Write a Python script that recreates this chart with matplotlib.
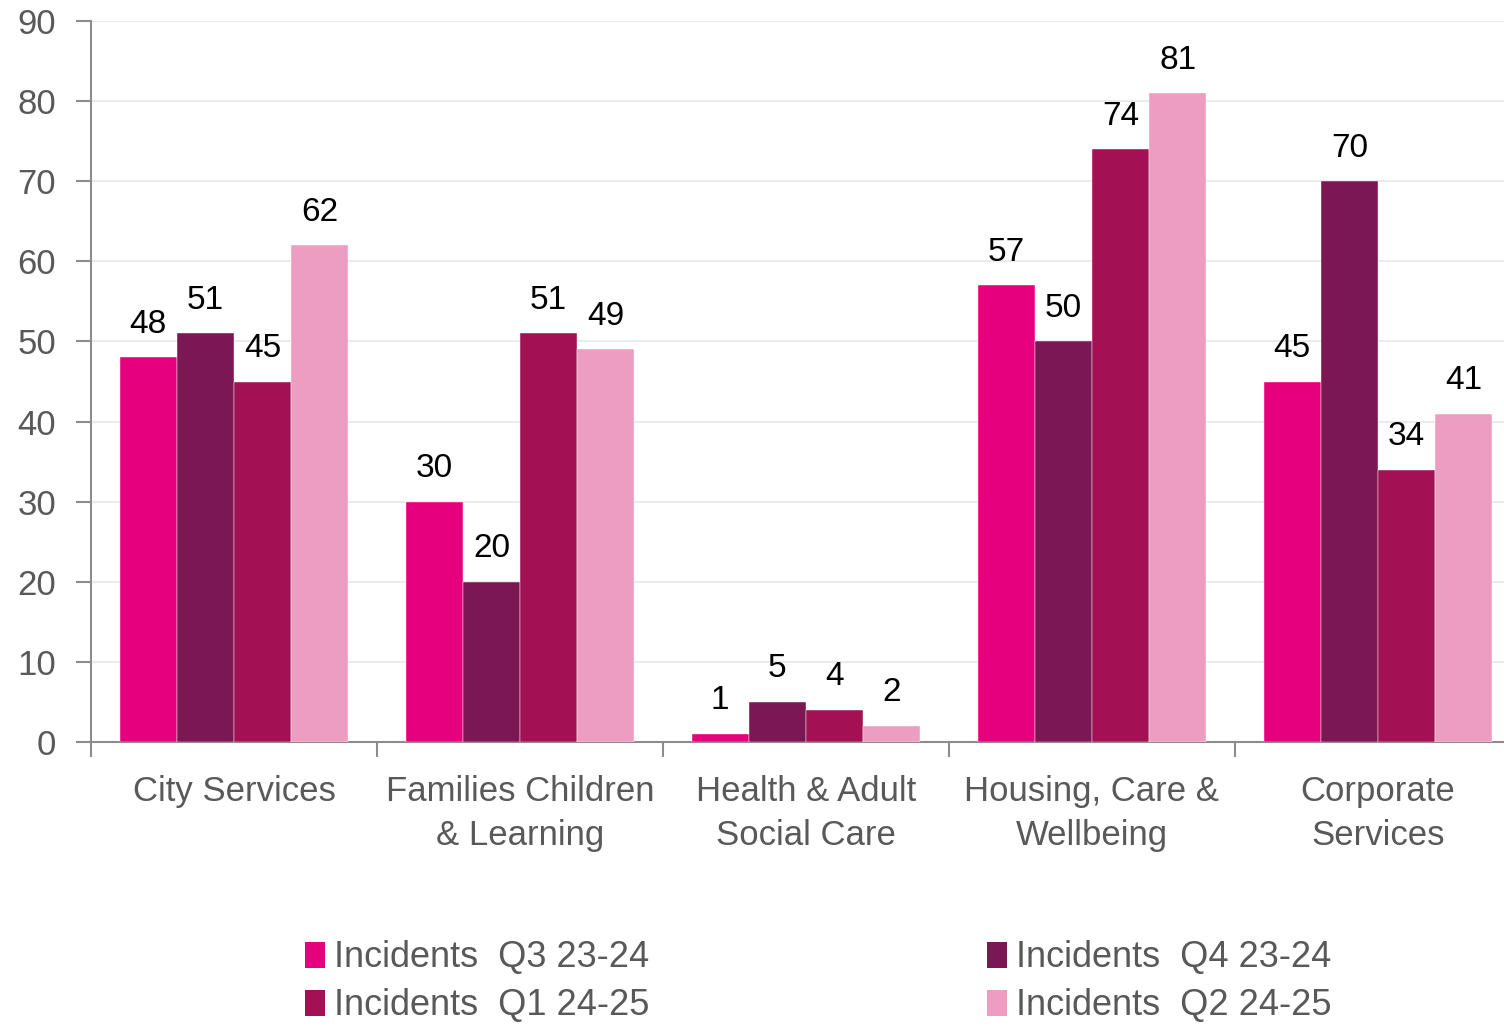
import numpy as np
import matplotlib
matplotlib.use('Agg')
import matplotlib.pyplot as plt
from matplotlib.patches import Patch

# Data
categories = ["City Services", "Families Children\n& Learning", "Health & Adult\nSocial Care",
              "Housing, Care &\nWellbeing", "Corporate\nServices"]
series_names = ["Incidents  Q3 23-24", "Incidents  Q4 23-24", "Incidents  Q1 24-25", "Incidents  Q2 24-25"]
q3_23_24 = [48, 30, 1, 57, 45]
q4_23_24 = [51, 20, 5, 50, 70]
q1_24_25 = [45, 51, 4, 74, 34]
q2_24_25 = [62, 49, 2, 81, 41]
colors = ["#E6007E", "#7B1853", "#A31155", "#EC9DC0"]

plt.rcParams['font.family'] = ['Liberation Sans', 'DejaVu Sans']

fig = plt.figure(figsize=(15.04, 10.27), dpi=100)
# the plot area runs past the right edge of the picture, as in the original
ax = fig.add_axes([0.0605, 0.2775, 0.9508, 0.702])

x = np.arange(len(categories))
width = 0.2
all_series = [q3_23_24, q4_23_24, q1_24_25, q2_24_25]
for i, vals in enumerate(all_series):
    offs = (i - 1.5) * width
    bars = ax.bar(x + offs, vals, width, color=colors[i], edgecolor='white', linewidth=0.3, zorder=3)
    for b, v in zip(bars, vals):
        ax.text(b.get_x() + b.get_width() / 2, v + 2.2, str(v), ha='center', va='bottom',
                fontsize=24, color='black')

ax.set_xlim(-0.5, len(categories) - 0.5)
ax.set_ylim(0, 90)
ax.set_yticks(range(0, 91, 10))
ax.tick_params(axis='y', labelsize=25, labelcolor='#595959', color='#8C8C8C', length=11, width=1.5, pad=14)
ax.grid(axis='y', color='#EBEBEB', linewidth=1.5, zorder=0)

ax.set_xticks(x)
ax.set_xticklabels(categories, fontsize=25, color='#595959', linespacing=1.42)
ax.tick_params(axis='x', length=0, pad=24)
ax.set_xticks(np.arange(-0.5, len(categories), 1), minor=True)
ax.tick_params(axis='x', which='minor', length=11, width=1.5, color='#8C8C8C')

for s in ['top', 'right']:
    ax.spines[s].set_visible(False)
ax.spines['left'].set_color('#8C8C8C')
ax.spines['left'].set_linewidth(1.5)
ax.spines['bottom'].set_color('#8C8C8C')
ax.spines['bottom'].set_linewidth(1.5)

# legend filled row by row: Q3, Q4 on top, Q1, Q2 below
order = [0, 2, 1, 3]
handles = [Patch(facecolor=colors[k], edgecolor='none') for k in order]
labels = [series_names[k] for k in order]
fig.legend(handles, labels, loc='upper left', bbox_to_anchor=(0.181, 0.116), ncol=2,
           frameon=False, fontsize=26, labelcolor='#595959', handlelength=0.55, handleheight=0.75,
           handletextpad=0.25, columnspacing=9.36, labelspacing=0.36)

fig.savefig('out.png', dpi=100)
